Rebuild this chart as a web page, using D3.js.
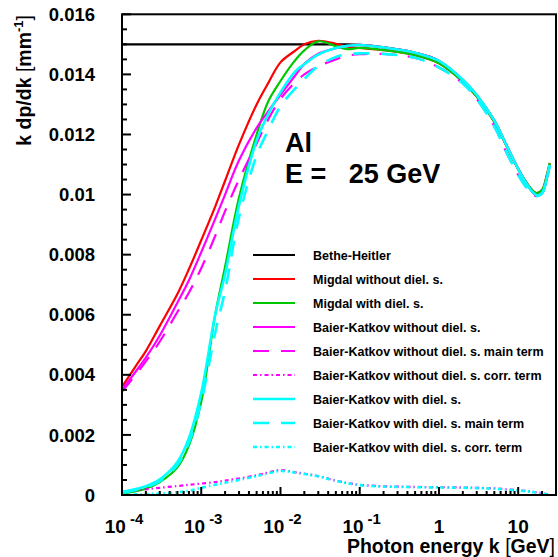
<!DOCTYPE html>
<html><head><meta charset="utf-8">
<script src="https://cdn.jsdelivr.net/npm/d3@7"></script>
<style>
body{margin:0;background:#fff;}
text{font-family:"Liberation Sans",Arial,sans-serif;font-weight:bold;fill:#000;}
</style></head>
<body><svg id="c" width="558" height="557"></svg>
<script>
// photon energy grid [GeV]
const kValues = [0.0001,0.00015,0.0002,0.0003,0.0005,0.0007,0.001,0.0015,0.002,0.003,0.005,0.007,0.01,0.015,0.02,0.03,0.05,0.07,0.1,0.2,0.5,1,2,3,5,7,10,13,15,17,20,23,25];

const betheHeitler = [0.0150,0.0150,0.0150,0.0150,0.0150,0.0150,0.0150,0.0150,0.0150,0.0150,0.0150,0.0150,0.0150,0.0150,0.0150,0.0150,0.0150,0.0150,0.01498,0.01490,0.01472,0.01445,0.01382,0.01331,0.01246,0.01168,0.01085,0.01033,0.01010,0.00998,0.01005,0.01055,0.01098];
const migdalNoDiel = [0.00360,0.00430,0.00479,0.00563,0.00669,0.00752,0.00848,0.00960,0.01046,0.01167,0.01300,0.01371,0.01440,0.01477,0.01500,0.01512,0.01502,0.01492,0.01488,0.01481,0.01464,0.01437,0.01376,0.01326,0.01242,0.01166,0.01085,0.01036,0.01015,0.01005,0.01015,0.01065,0.01105];
const migdalDiel = [0.00005,0.00013,0.00021,0.00043,0.00092,0.00165,0.00310,0.00600,0.00760,0.00990,0.01200,0.01310,0.01378,0.01444,0.01480,0.01510,0.01494,0.01484,0.01488,0.01481,0.01464,0.01437,0.01376,0.01326,0.01242,0.01166,0.01085,0.01036,0.01015,0.01005,0.01015,0.01065,0.01105];
const bkNoDiel = [0.00350,0.00412,0.00457,0.00531,0.00640,0.00715,0.00808,0.00919,0.01000,0.01114,0.01222,0.01277,0.01332,0.01393,0.01435,0.01469,0.01487,0.01495,0.01498,0.01490,0.01472,0.01445,0.01382,0.01331,0.01246,0.01168,0.01085,0.01033,0.01010,0.00998,0.01005,0.01055,0.01098];
const bkNoDielMain = [0.00344,0.00402,0.00445,0.00511,0.00609,0.00674,0.00755,0.00862,0.00945,0.01050,0.01170,0.01250,0.01318,0.01371,0.01400,0.01427,0.01450,0.01462,0.01467,0.01468,0.01455,0.01423,0.01370,0.01318,0.01227,0.01144,0.01065,0.01020,0.01003,0.00995,0.01005,0.01055,0.01097];
const bkNoDielCorr = [0.00010,0.00016,0.00019,0.00024,0.00030,0.00034,0.00038,0.00043,0.00048,0.00055,0.00066,0.00075,0.00083,0.00076,0.00071,0.00063,0.00048,0.00040,0.00034,0.00029,0.00027,0.00026,0.00025,0.00024,0.00022,0.00019,0.00016,0.00013,0.00011,0.00009,0.00006,0.00003,0.00001];
const bkDiel = [0.00010,0.00020,0.00029,0.00052,0.00110,0.00190,0.00340,0.00600,0.00735,0.00965,0.01180,0.01268,0.01340,0.01407,0.01434,0.01466,0.01488,0.01495,0.01498,0.01490,0.01472,0.01445,0.01382,0.01331,0.01246,0.01168,0.01085,0.01033,0.01010,0.00998,0.01005,0.01055,0.01098];
const bkDielMain = [0.00008,0.00017,0.00025,0.00046,0.00100,0.00175,0.00310,0.00540,0.00680,0.00925,0.01130,0.01214,0.01294,0.01350,0.01385,0.01428,0.01458,0.01467,0.01470,0.01468,0.01455,0.01423,0.01370,0.01318,0.01227,0.01144,0.01065,0.01020,0.01003,0.00995,0.01005,0.01055,0.01097];
const bkDielCorr = [0.00001,0.00002,0.00003,0.00005,0.00009,0.00014,0.00024,0.00034,0.00041,0.00050,0.00063,0.00072,0.00080,0.00075,0.00070,0.00062,0.00047,0.00039,0.00033,0.00028,0.00026,0.00025,0.00024,0.00023,0.00021,0.00018,0.00015,0.00012,0.00010,0.00008,0.00005,0.00002,0.00000];

const seriesNames = ["Bethe-Heitler","Migdal without diel. s.","Migdal with diel. s.","Baier-Katkov without diel. s.","Baier-Katkov without diel. s. main term","Baier-Katkov without diel. s. corr. term","Baier-Katkov with diel. s.","Baier-Katkov with diel. s. main term","Baier-Katkov with diel. s. corr. term"];
const seriesValues = [betheHeitler,migdalNoDiel,migdalDiel,bkNoDiel,bkNoDielMain,bkNoDielCorr,bkDiel,bkDielMain,bkDielCorr];
const seriesColors = ["#000000","#ff0000","#00c800","#ff00ff","#ff00ff","#ff00ff","#00ffff","#00ffff","#00ffff"];
const seriesDash = [null,null,null,null,"16,12","4,3,1.5,3",null,"16,12","4,3,1.5,3"];

const yTickValues = [0,0.002,0.004,0.006,0.008,0.01,0.012,0.014,0.016];
const yTickLabels = ["0","0.002","0.004","0.006","0.008","0.01","0.012","0.014","0.016"];
const xTickValues = [0.0001,0.001,0.01,0.1,1,10];
const xTickBase = ["10","10","10","10","1","10"];
const xTickExp = ["-4","-3","-2","-1","",""];

const svg = d3.select("#c");
const L = 122, R = 556, T = 14.3, B = 495;
const x = d3.scaleLog().domain([1e-4, 30]).range([L, R]);
const y = d3.scaleLinear().domain([0, 0.016]).range([B, T]);

// curves
const line = d3.line().x(d => x(d[0])).y(d => y(d[1])).curve(d3.curveCatmullRom.alpha(0.5));
const g = svg.append("g");
seriesValues.forEach((vals, i) => {
  const pts = kValues.map((k, j) => [k, vals[j]]);
  g.append("path").attr("d", line(pts)).attr("fill", "none")
    .attr("stroke", seriesColors[i]).attr("stroke-width", i >= 6 ? 2.6 : 2.2)
    .attr("stroke-dasharray", seriesDash[i]);
});

// frame
svg.append("rect").attr("x", L).attr("y", T).attr("width", R - L).attr("height", B - T)
  .attr("fill", "none").attr("stroke", "#000").attr("stroke-width", 2);

// y ticks
const yMinor = d3.range(0, 0.01601, 0.0005);
yMinor.forEach(v => {
  const major = Math.abs(v / 0.002 - Math.round(v / 0.002)) < 1e-6;
  svg.append("line").attr("x1", L).attr("x2", L + (major ? 9 : 5))
    .attr("y1", y(v)).attr("y2", y(v)).attr("stroke", "#000").attr("stroke-width", 2);
});
yTickValues.forEach((v, i) => {
  svg.append("text").attr("x", 95).attr("y", y(v)).attr("dy", "0.36em")
    .attr("text-anchor", "end").style("font-size", "18.5px").text(yTickLabels[i]);
});

// x ticks
const xMinor = [];
[-4,-3,-2,-1,0,1].forEach(e => { for (let m = 2; m <= 9; m++) { const v = m * Math.pow(10, e); if (v < 30) xMinor.push(v); } });
xMinor.forEach(v => {
  svg.append("line").attr("x1", x(v)).attr("x2", x(v)).attr("y1", B).attr("y2", B - 4)
    .attr("stroke", "#000").attr("stroke-width", 2);
});
xTickValues.forEach((v, i) => {
  svg.append("line").attr("x1", x(v)).attr("x2", x(v)).attr("y1", B).attr("y2", B - 8)
    .attr("stroke", "#000").attr("stroke-width", 2);
  const t = svg.append("text").attr("x", x(v) + (xTickExp[i] ? 2 : 0)).attr("y", 533)
    .attr("text-anchor", "middle").style("font-size", "19px");
  t.append("tspan").text(xTickBase[i]);
  if (xTickExp[i]) t.append("tspan").attr("dx", 4).attr("dy", -9).style("font-size", "15px").text(xTickExp[i]);
});

// axis titles
const xt = svg.append("text").attr("x", 555).attr("y", 553).attr("text-anchor", "end").style("font-size", "19.5px");
xt.append("tspan").text("Photon energy k ");
xt.append("tspan").style("font-weight", "normal").text("[");
xt.append("tspan").text("GeV");
xt.append("tspan").style("font-weight", "normal").text("]");

const yt = svg.append("text").attr("transform", "translate(31,15) rotate(-90)").attr("text-anchor", "end").style("font-size", "19.5px");
yt.append("tspan").text("k dp/dk ");
yt.append("tspan").style("font-weight", "normal").text("[");
yt.append("tspan").text("mm");
yt.append("tspan").attr("dy", -8).style("font-size", "13px").text("-1");
yt.append("tspan").attr("dy", 8).style("font-weight", "normal").text("]");

// annotation
svg.append("text").attr("x", 285).attr("y", 152).style("font-size", "27px").text("Al");
svg.append("text").attr("x", 285).attr("y", 182.5).style("font-size", "27px").style("white-space", "pre").text("E =   25 GeV");

// legend
const legY0 = 255, legDy = 24;
seriesNames.forEach((name, i) => {
  const yy = legY0 + i * legDy;
  svg.append("line").attr("x1", 253).attr("x2", 295).attr("y1", yy).attr("y2", yy)
    .attr("stroke", seriesColors[i]).attr("stroke-width", i >= 6 ? 2.6 : 2.2)
    .attr("stroke-dasharray", seriesDash[i]);
  svg.append("text").attr("x", 313).attr("y", yy).attr("dy", "0.36em")
    .style("font-size", "12.5px").text(name);
});
</script></body></html>
